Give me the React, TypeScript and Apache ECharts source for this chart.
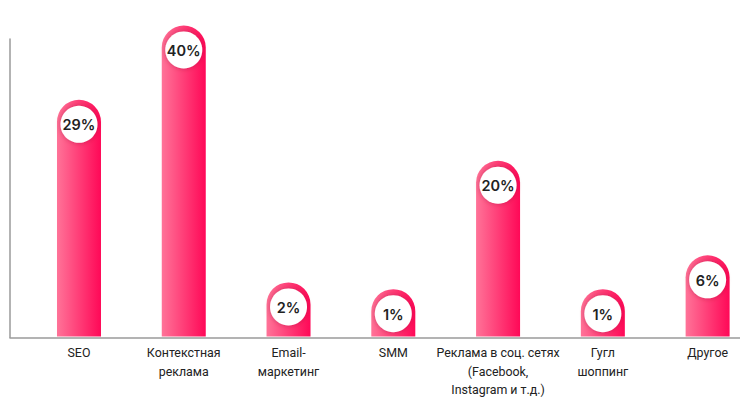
import React, { useEffect, useRef } from "react";
import * as echarts from "echarts";

const categories: string[] = [
  "SEO",
  "Контекстная\nреклама",
  "Email-\nмаркетинг",
  "SMM",
  "Реклама в соц. сетях\n(Facebook,\nInstagram и т.д.)",
  "Гугл\nшоппинг",
  "Другое",
];
const values: number[] = [29, 40, 2, 1, 20, 1, 6];

const Y_MIN = -6;
const Y_MAX = 38;

export default function App() {
  const ref = useRef<HTMLDivElement>(null);
  useEffect(() => {
    if (!ref.current) return;
    const chart = echarts.init(ref.current, null, { renderer: "svg" });
    const axisLineStyle = { color: "#9a9a9a", width: 1.5 };
    chart.setOption({
      animation: false,
      backgroundColor: "#ffffff",
      grid: [
        { left: 26.6, right: 0, top: 39, bottom: 61.5 },
        { left: 10, right: 20, top: 39, bottom: 61.5 },
      ],
      xAxis: [
        {
          type: "category",
          gridIndex: 0,
          data: categories,
          axisLine: { show: false },
          axisTick: { show: false },
          splitLine: { show: false },
          axisLabel: {
            interval: 0,
            margin: 7,
            fontSize: 12.4,
            lineHeight: 18.5,
            color: "#222222",
            fontFamily: "Roboto",
          },
        },
        {
          type: "value",
          gridIndex: 1,
          min: 0,
          max: 1,
          axisLine: { show: true, onZero: false, lineStyle: axisLineStyle },
          axisTick: { show: false },
          axisLabel: { show: false },
          splitLine: { show: false },
        },
      ],
      yAxis: [
        {
          type: "value",
          gridIndex: 0,
          min: Y_MIN,
          max: Y_MAX,
          show: false,
          splitLine: { show: false },
        },
        {
          type: "value",
          gridIndex: 1,
          min: 0,
          max: 1,
          axisLine: { show: true, onZero: false, lineStyle: axisLineStyle },
          axisTick: { show: false },
          axisLabel: { show: false },
          splitLine: { show: false },
        },
      ],
      series: [
        {
          type: "custom",
          xAxisIndex: 0,
          yAxisIndex: 0,
          clip: false,
          data: values.map((v, i) => [i, v]),
          renderItem: (params: any, api: any) => {
            const idx = api.value(0);
            const v = api.value(1);
            const top = api.coord([idx, v]);
            const base = api.coord([idx, Y_MIN]);
            const bw = 44;
            const cx = top[0];
            const y = top[1];
            const h = base[1] - y;
            return {
              type: "group",
              children: [
                {
                  type: "rect",
                  shape: { x: cx - bw / 2, y, width: bw, height: h, r: [22, 22, 0, 0] },
                  style: {
                    fill: new echarts.graphic.LinearGradient(0, 0, 1, 0, [
                      { offset: 0, color: "#ff7398" },
                      { offset: 1, color: "#ff0857" },
                    ]),
                  },
                },
                {
                  type: "circle",
                  shape: { cx, cy: y + 24.5, r: 18.5 },
                  style: {
                    fill: "#ffffff",
                    shadowBlur: 5,
                    shadowColor: "rgba(150,0,45,0.45)",
                  },
                },
                {
                  type: "text",
                  style: {
                    text: values[idx] + "%",
                    x: cx,
                    y: y + 25,
                    align: "center",
                    verticalAlign: "middle",
                    fontSize: 14.5,
                    fontWeight: 600,
                    fontFamily: "Inter",
                    fill: "#222222",
                  },
                },
              ],
            };
          },
        },
      ],
    });
    return () => chart.dispose();
  }, []);
  return (
    <div
      style={{
        position: "fixed",
        left: 0,
        top: 0,
        width: 740,
        height: 399,
        overflow: "hidden",
        background: "#ffffff",
      }}
    >
      <div ref={ref} style={{ width: 760, height: 399 }} />
    </div>
  );
}
